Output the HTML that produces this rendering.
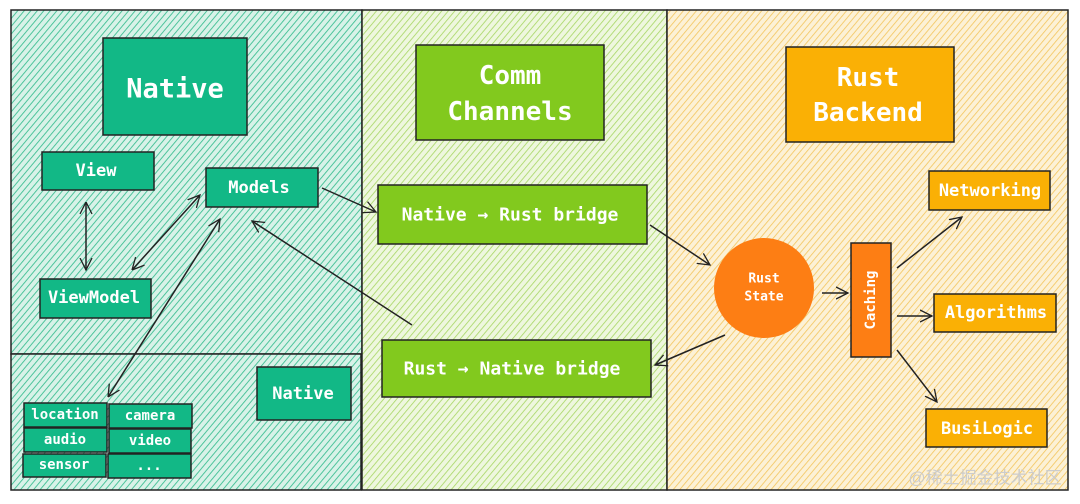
<!DOCTYPE html>
<html><head><meta charset="utf-8"><style>
html,body{margin:0;padding:0;background:#fff;width:1080px;height:504px;overflow:hidden}
text{font-family:"DejaVu Sans Mono","Liberation Mono",monospace;fill:#fff;font-weight:bold;text-anchor:middle;dominant-baseline:central}
</style></head><body>
<svg width="1080" height="504" viewBox="0 0 1080 504" xmlns="http://www.w3.org/2000/svg">
<defs>
<pattern id="pt" width="5" height="5" patternUnits="userSpaceOnUse" patternTransform="rotate(40)"><rect width="5" height="5" fill="#d8f2e8"/><line x1="0" y1="0" x2="0" y2="5" stroke="#3fbf93" stroke-width="1.8"/></pattern>
<pattern id="pg" width="5" height="5" patternUnits="userSpaceOnUse" patternTransform="rotate(40)"><rect width="5" height="5" fill="#eef7de"/><line x1="0" y1="0" x2="0" y2="5" stroke="#a6d662" stroke-width="1.6"/></pattern>
<pattern id="po" width="5" height="5" patternUnits="userSpaceOnUse" patternTransform="rotate(40)"><rect width="5" height="5" fill="#fcf1d6"/><line x1="0" y1="0" x2="0" y2="5" stroke="#f3c55c" stroke-width="1.6"/></pattern>
<marker id="a" markerWidth="14" markerHeight="14" refX="12" refY="7" orient="auto" markerUnits="userSpaceOnUse"><path d="M0,1 L12,7 L0,13" fill="none" stroke="#222" stroke-width="1.3"/></marker>
<marker id="s" markerWidth="14" markerHeight="14" refX="0" refY="7" orient="auto" markerUnits="userSpaceOnUse"><path d="M12,1 L0,7 L12,13" fill="none" stroke="#222" stroke-width="1.3"/></marker>
</defs>
<g stroke="#222" stroke-width="1.5">
<rect x="11" y="10" width="351" height="344" fill="url(#pt)"/>
<rect x="11" y="354" width="350" height="136" fill="url(#pt)"/>
<rect x="362" y="10" width="305" height="480" fill="url(#pg)"/>
<rect x="667" y="10" width="401" height="480" fill="url(#po)"/>
<g fill="#12b886">
<rect x="103" y="38" width="144" height="97"/>
<rect x="42" y="152" width="112" height="38"/>
<rect x="206" y="168" width="112" height="39"/>
<rect x="40" y="279" width="111" height="39"/>
<rect x="257" y="367" width="94" height="53"/>
<rect x="24" y="403" width="83" height="24"/>
<rect x="109" y="404" width="83" height="24"/>
<rect x="24" y="428" width="83" height="24"/>
<rect x="109" y="429" width="82" height="24"/>
<rect x="23" y="454" width="83" height="23"/>
<rect x="108" y="454" width="83" height="24"/>
</g>
<g fill="#82c91e">
<rect x="416" y="45" width="188" height="95"/>
<rect x="378" y="185" width="269" height="59"/>
<rect x="382" y="340" width="269" height="57"/>
</g>
<g fill="#fab005">
<rect x="786" y="47" width="168" height="95"/>
<rect x="929" y="171" width="121" height="39"/>
<rect x="934" y="294" width="122" height="38"/>
<rect x="926" y="409" width="121" height="38"/>
</g>
<rect x="851" y="243" width="40" height="114" fill="#fd7e14"/>
</g>
<circle cx="764" cy="288" r="50" fill="#fd7e14"/>
<g stroke="#222" stroke-width="1.5" fill="none">
<line x1="86" y1="202" x2="86" y2="270" marker-start="url(#s)" marker-end="url(#a)"/>
<line x1="132" y1="270" x2="200" y2="195" marker-start="url(#s)" marker-end="url(#a)"/>
<line x1="108" y1="397" x2="220" y2="219" marker-start="url(#s)" marker-end="url(#a)"/>
<line x1="322" y1="188" x2="376" y2="212" marker-end="url(#a)"/>
<line x1="412" y1="325" x2="252" y2="221" marker-end="url(#a)"/>
<line x1="650" y1="225" x2="710" y2="265" marker-end="url(#a)"/>
<line x1="725" y1="335" x2="655" y2="365" marker-end="url(#a)"/>
<line x1="822" y1="293" x2="848" y2="293" marker-end="url(#a)"/>
<line x1="897" y1="268" x2="962" y2="217" marker-end="url(#a)"/>
<line x1="897" y1="316" x2="932" y2="316" marker-end="url(#a)"/>
<line x1="897" y1="350" x2="937" y2="402" marker-end="url(#a)"/>
</g>
<text x="175" y="89" font-size="27">Native</text>
<text x="96" y="171" font-size="17">View</text>
<text x="259" y="188" font-size="17">Models</text>
<text x="94" y="298" font-size="17">ViewModel</text>
<text x="303" y="394" font-size="17">Native</text>
<g font-size="14"><text x="65" y="415">location</text><text x="150" y="416">camera</text><text x="65" y="440">audio</text><text x="150" y="441">video</text><text x="64" y="465">sensor</text><text x="149" y="466">...</text></g>
<text x="510" y="76" font-size="26">Comm</text>
<text x="510" y="112" font-size="26">Channels</text>
<text x="510" y="215" font-size="18">Native → Rust bridge</text>
<text x="512" y="369" font-size="18">Rust → Native bridge</text>
<text x="868" y="78" font-size="26">Rust</text>
<text x="868" y="113" font-size="26">Backend</text>
<text x="764" y="279" font-size="13">Rust</text>
<text x="764" y="297" font-size="13">State</text>
<text x="871" y="300" font-size="14" transform="rotate(-90 871 300)">Caching</text>
<text x="990" y="191" font-size="17">Networking</text>
<text x="996" y="313" font-size="17">Algorithms</text>
<text x="987" y="429" font-size="17">BusiLogic</text>
<text x="985" y="478" font-size="17" style="fill:#ccc;font-weight:normal;font-family:'Liberation Sans','Noto Sans CJK SC',sans-serif">@稀土掘金技术社区</text>
</svg>
</body></html>
